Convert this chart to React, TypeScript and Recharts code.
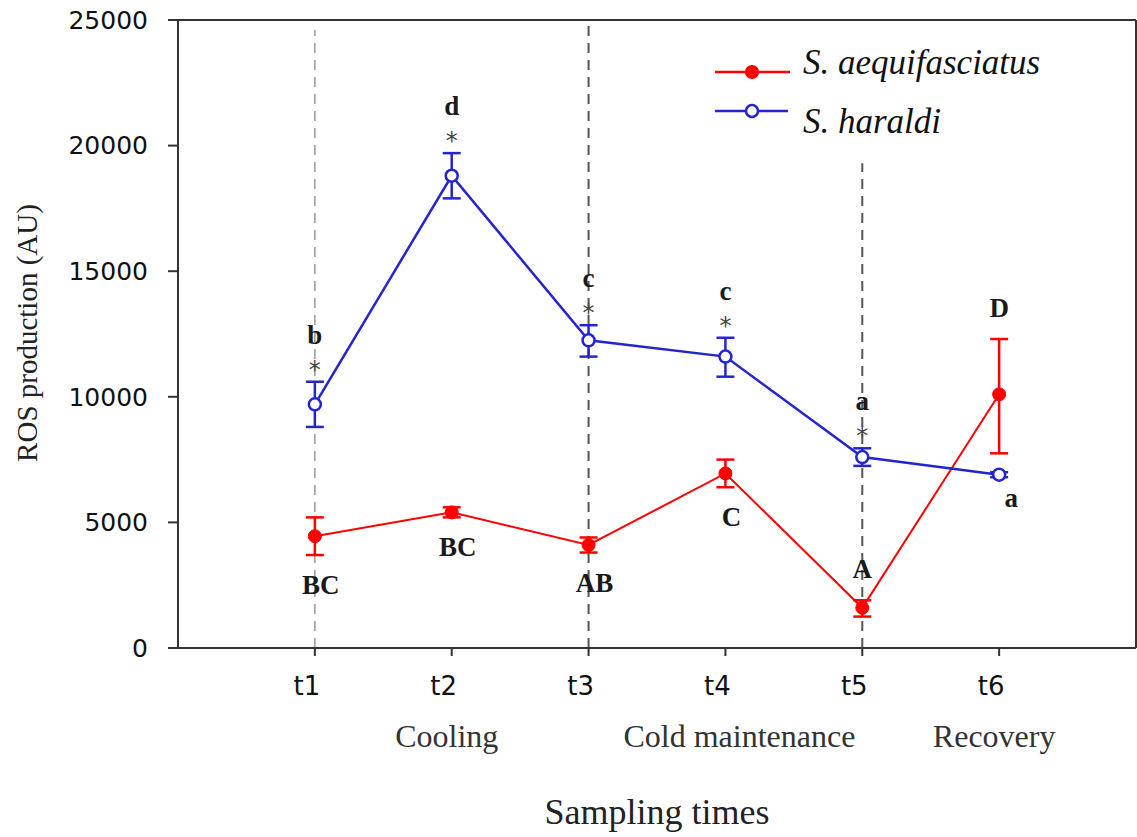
import React from "react";
import { ComposedChart, Line, XAxis, YAxis, ErrorBar, ReferenceLine, Legend, LabelList } from "recharts";

const times = ["t1", "t2", "t3", "t4", "t5", "t6"];
const phases = ["", "Cooling", "", "Cold maintenance", "", "Recovery"];

// S. aequifasciatus (red, filled)
const aequiMean = [4450, 5400, 4100, 6950, 1600, 10100];
const aequiLow = [3700, 5200, 3800, 6400, 1250, 7750];
const aequiHigh = [5200, 5600, 4400, 7500, 1900, 12300];
const aequiLetters = ["BC", "BC", "AB", "C", "A", "D"];

// S. haraldi (blue, open)
const haraldiMean = [9700, 18800, 12250, 11600, 7600, 6900];
const haraldiLow = [8800, 17900, 11600, 10800, 7250, 6800];
const haraldiHigh = [10600, 19700, 12850, 12350, 7950, 7000];
const haraldiLetters = ["b", "d", "c", "c", "a", "a"];
const haraldiStars = [true, true, true, true, true, false];

const yTicks = [0, 5000, 10000, 15000, 20000, 25000];
const xTicks = [1, 2, 3, 4, 5, 6];

const RED = "#ff0000";
const BLUE = "#2424d0";
const AXIS = "#333";
const W = 1137;
const H = 837;
const TOP = 20;
const PLOT_H = 628;
const PX = PLOT_H / 25000;
const aequiAbove = [false, false, false, false, true, true];

const data = times.map((t, i) => ({
  pos: i + 1,
  aequi: aequiMean[i],
  aequiErr: [aequiMean[i] - aequiLow[i], aequiHigh[i] - aequiMean[i]],
  haraldi: haraldiMean[i],
  haraldiErr: [haraldiMean[i] - haraldiLow[i], haraldiHigh[i] - haraldiMean[i]],
}));

const letterStyle = {
  fontFamily: "'Liberation Serif', 'Times New Roman', serif",
  fontSize: 27,
  fontWeight: 700,
  fill: "#1a1a1a",
};

const renderAequiLabel = (p: any) => {
  const i = p.index;
  const x = Number(p.x);
  const y = Number(p.y);
  const yy = aequiAbove[i]
    ? y - (aequiHigh[i] - aequiMean[i]) * PX - 31
    : y + (aequiMean[i] - aequiLow[i]) * PX + 30;
  return (
    <text key={"al" + i} x={x + (aequiAbove[i] ? 0 : 6)} y={yy} textAnchor="middle" dominantBaseline="central" style={letterStyle}>
      {aequiLetters[i]}
    </text>
  );
};

const renderHaraldiLabel = (p: any) => {
  const i = p.index;
  const x = Number(p.x);
  const y = Number(p.y);
  if (!haraldiStars[i]) {
    return (
      <text key={"hl" + i} x={x + 12} y={y + 23} textAnchor="middle" dominantBaseline="central" style={letterStyle}>
        {haraldiLetters[i]}
      </text>
    );
  }
  const top = y - (haraldiHigh[i] - haraldiMean[i]) * PX;
  return (
    <g key={"hl" + i}>
      <text x={x} y={top - 12} textAnchor="middle" dominantBaseline="central" style={{ fontFamily: "'DejaVu Sans', sans-serif", fontSize: 24, fill: "#444" }}>
        *
      </text>
      <text x={x} y={top - 47} textAnchor="middle" dominantBaseline="central" style={letterStyle}>
        {haraldiLetters[i]}
      </text>
    </g>
  );
};

const XTick = (props: any) => {
  const { x, y, payload } = props;
  const i = payload.value - 1;
  const phaseDx = i === 3 ? 14 : -5;
  return (
    <g>
      <text x={x - 8} y={y + 37} textAnchor="middle" style={{ fontFamily: "'DejaVu Sans', Verdana, sans-serif", fontSize: 26, fill: "#111" }}>
        {times[i]}
      </text>
      {phases[i] && (
        <text x={x + phaseDx} y={y + 89} textAnchor="middle" style={{ fontFamily: "'Liberation Serif', 'Times New Roman', serif", fontSize: 32, fill: "#333" }}>
          {phases[i]}
        </text>
      )}
    </g>
  );
};

const renderLegend = () => (
  <svg width={420} height={110}>
    <line x1={5} y1={32} x2={80} y2={32} stroke={RED} strokeWidth={2.5} />
    <circle cx={42} cy={32} r={7} fill={RED} />
    <text x={93} y={34} style={{ fontFamily: "'Liberation Serif', 'Times New Roman', serif", fontStyle: "italic", fontSize: 35, fill: "#111" }}>
      S. aequifasciatus
    </text>
    <line x1={5} y1={71} x2={78} y2={71} stroke={BLUE} strokeWidth={2.5} />
    <circle cx={42} cy={71} r={6} fill="#fff" stroke={BLUE} strokeWidth={2.5} />
    <text x={93} y={93} style={{ fontFamily: "'Liberation Serif', 'Times New Roman', serif", fontStyle: "italic", fontSize: 35, fill: "#111" }}>
      S. haraldi
    </text>
  </svg>
);

export default function App() {
  return (
    <div style={{ position: "absolute", left: 0, top: 0, width: W, height: H, background: "#fff" }}>
      <ComposedChart width={W} height={H} data={data} margin={{ top: TOP, right: 1, bottom: 0, left: 0 }}>
        <XAxis
          type="number"
          dataKey="pos"
          domain={[0, 7]}
          ticks={xTicks}
          tick={<XTick />}
          tickSize={8}
          height={H - TOP - PLOT_H}
          axisLine={{ stroke: AXIS, strokeWidth: 2 }}
          tickLine={{ stroke: AXIS, strokeWidth: 2 }}
          label={{
            content: ({ viewBox }: any) => (
              <text
                x={657}
                y={viewBox.y + 176}
                textAnchor="middle"
                style={{ fontFamily: "'Liberation Serif', 'Times New Roman', serif", fontSize: 36, fill: "#222" }}
              >
                Sampling times
              </text>
            ),
          }}
        />
        <YAxis
          type="number"
          domain={[0, 25000]}
          ticks={yTicks}
          width={178}
          tickSize={10}
          tickMargin={20}
          tick={{ fontFamily: "'DejaVu Sans', Verdana, sans-serif", fontSize: 25, fill: "#111" }}
          axisLine={{ stroke: AXIS, strokeWidth: 2 }}
          tickLine={{ stroke: AXIS, strokeWidth: 2 }}
          label={{
            content: () => {
              const cx = 27;
              const cy = 333;
              return (
                <text
                  x={cx}
                  y={cy}
                  transform={`rotate(-90 ${cx} ${cy})`}
                  textAnchor="middle"
                  dominantBaseline="central"
                  style={{ fontFamily: "'Liberation Serif', 'Times New Roman', serif", fontSize: 29, fill: "#222" }}
                >
                  ROS production (AU)
                </text>
              );
            },
          }}
        />
        <ReferenceLine y={25000} stroke={AXIS} strokeWidth={2} />
        <ReferenceLine x={7} stroke={AXIS} strokeWidth={2} />
        <ReferenceLine segment={[{ x: 1, y: 0 }, { x: 1, y: 24600 }]} stroke="#999" strokeWidth={1.5} strokeDasharray="10 7" />
        <ReferenceLine segment={[{ x: 3, y: 0 }, { x: 3, y: 25000 }]} stroke="#555" strokeWidth={2} strokeDasharray="10 7" />
        <ReferenceLine segment={[{ x: 5, y: 0 }, { x: 5, y: 19300 }]} stroke="#555" strokeWidth={2} strokeDasharray="10 7" />
        <Legend
          layout="horizontal"
          verticalAlign="middle"
          content={renderLegend}
          wrapperStyle={{ position: "absolute", left: 710, top: 40, width: 420, height: 110 }}
        />
        <Line
          dataKey="aequi"
          stroke={RED}
          strokeWidth={2}
          dot={{ r: 6.5, fill: RED, stroke: RED, strokeWidth: 1 }}
          isAnimationActive={false}
        >
          <ErrorBar dataKey="aequiErr" direction="y" width={9} stroke={RED} strokeWidth={2.5} isAnimationActive={false} />
          <LabelList dataKey="aequi" content={renderAequiLabel} />
        </Line>
        <Line
          dataKey="haraldi"
          stroke={BLUE}
          strokeWidth={2.5}
          dot={{ r: 6, fill: "#fff", stroke: BLUE, strokeWidth: 2.5 }}
          isAnimationActive={false}
        >
          <ErrorBar dataKey="haraldiErr" direction="y" width={9} stroke={BLUE} strokeWidth={2.5} isAnimationActive={false} />
          <LabelList dataKey="haraldi" content={renderHaraldiLabel} />
        </Line>
      </ComposedChart>
    </div>
  );
}
